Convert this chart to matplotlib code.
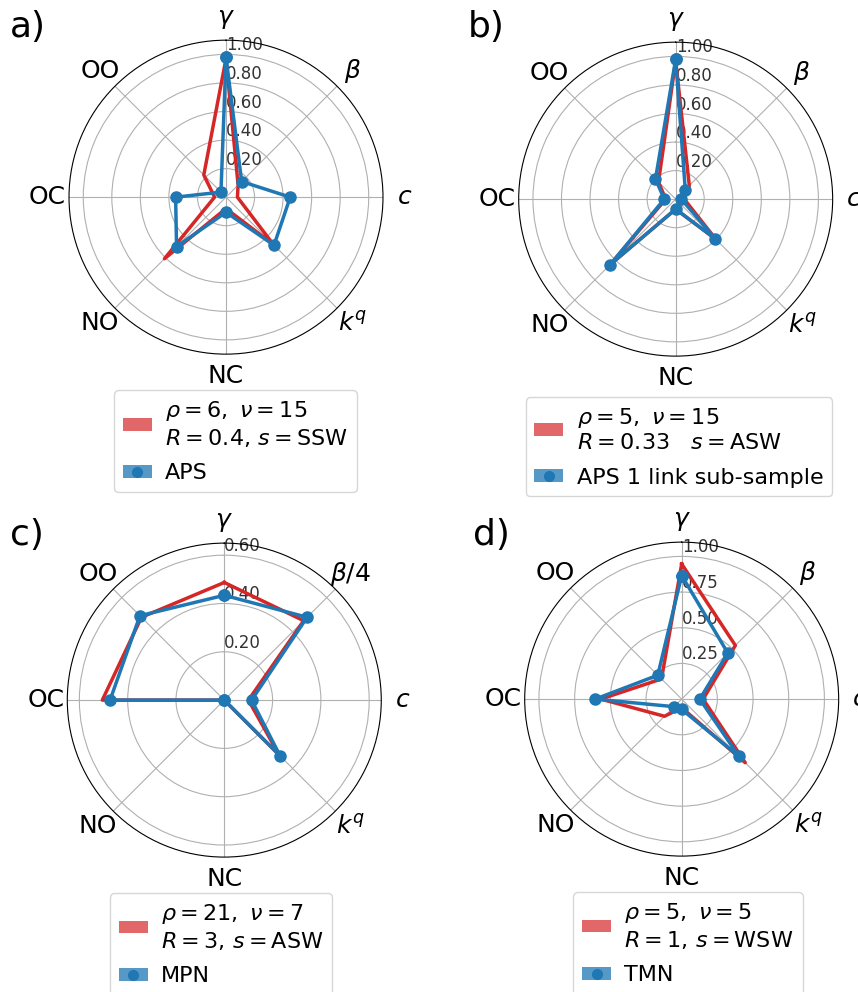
import numpy as np
import matplotlib
matplotlib.use("Agg")
import matplotlib.pyplot as plt
from matplotlib.patches import Patch
from matplotlib.lines import Line2D

# axis names, clockwise from the top
axis_names = [r"$\gamma$", r"$\beta$", r"$c$", r"$k^q$", "NC", "NO", "OC", "OO"]
axis_names_c = [r"$\gamma$", r"$\beta/4$", r"$c$", r"$k^q$", "NC", "NO", "OC", "OO"]

# panel a) model vs APS
model_a = [0.97, 0.12, 0.08, 0.47, 0.08, 0.61, 0.08, 0.22]
data_a = [0.98, 0.155, 0.45, 0.476, 0.106, 0.49, 0.353, 0.05]

# panel b) model vs APS 1 link sub-sample
model_b = [0.97, 0.135, 0.06, 0.40, 0.07, 0.65, 0.07, 0.17]
data_b = [0.98, 0.095, 0.04, 0.39, 0.07, 0.65, 0.08, 0.20]

# panel c) model vs MPN
model_c = [0.487, 0.465, 0.10, 0.32, 0.0, 0.0, 0.505, 0.485]
data_c = [0.434, 0.485, 0.113, 0.327, 0.0, 0.0, 0.473, 0.494]

# panel d) model vs TMN
model_d = [0.947, 0.532, 0.15, 0.63, 0.06, 0.17, 0.567, 0.20]
data_d = [0.866, 0.457, 0.127, 0.568, 0.072, 0.075, 0.606, 0.237]

labels_model = [
    r"$\rho = 6,\ \nu = 15$" + "\n" + r"$R = 0.4$, $s = $SSW",
    r"$\rho = 5,\ \nu = 15$" + "\n" + r"$R =$0.33   $s =$ASW",
    r"$\rho = 21,\ \nu = 7$" + "\n" + r"$R = 3$, $s = $ASW",
    r"$\rho = 5,\ \nu = 5$" + "\n" + r"$R = 1$, $s = $WSW",
]
labels_data = ["APS", "APS 1 link sub-sample", "MPN", "TMN"]

RED = "#d62728"
BLUE = "#1f77b4"

fig = plt.figure(figsize=(8.58, 9.92), dpi=100)

# axes rectangles in figure fraction
rects = [
    [0.0804, 0.643, 0.366, 0.3165],
    [0.6045, 0.641, 0.366, 0.3165],
    [0.0784, 0.136, 0.366, 0.3165],
    [0.6115, 0.137, 0.366, 0.3165],
]
panels = [
    (model_a, data_a, axis_names, 1.1, [0.2, 0.4, 0.6, 0.8, 1.0]),
    (model_b, data_b, axis_names, 1.1, [0.2, 0.4, 0.6, 0.8, 1.0]),
    (model_c, data_c, axis_names_c, 0.65, [0.2, 0.4, 0.6]),
    (model_d, data_d, axis_names, 1.1, [0.25, 0.5, 0.75, 1.0]),
]
letters = ["a)", "b)", "c)", "d)"]
letter_pos = [(0.012, 0.99), (0.545, 0.99), (0.012, 0.478), (0.551, 0.478)]
legend_anchor = [(0.53, -0.08), (0.51, -0.095), (0.49, -0.08), (0.52, -0.08)]

n = len(axis_names)
angles = np.linspace(0, 2 * np.pi, n, endpoint=False)
angles_closed = np.append(angles, angles[0])

for i, (model, data, names, rmax, rticks) in enumerate(panels):
    ax = fig.add_axes(rects[i], projection="polar")
    ax.set_theta_zero_location("N")
    ax.set_theta_direction(-1)

    ax.plot(angles_closed, model + model[:1], color=RED, lw=2.5)
    ax.plot(angles_closed, data + data[:1], color=BLUE, lw=2.5,
            marker="o", markersize=8)

    ax.set_xticks(angles)
    ax.set_xticklabels(names, fontsize=18)
    ax.tick_params(axis="x", pad=5)

    ax.set_ylim(0, rmax)
    ax.set_yticks(rticks)
    ax.set_yticklabels(["%.2f" % t for t in rticks], fontsize=12, color="#333333")
    ax.set_rlabel_position(0)

    # legend: coloured boxes, the data entry carries a dot
    handles = [
        Patch(facecolor=RED, alpha=0.7),
        (Patch(facecolor=BLUE, alpha=0.75),
         Line2D([], [], marker="o", color=BLUE, ls="", markersize=7)),
    ]
    ax.legend(handles, [labels_model[i], labels_data[i]],
              loc="upper center", bbox_to_anchor=legend_anchor[i],
              fontsize=16, handlelength=1.3, handleheight=0.5,
              handletextpad=0.6, labelspacing=0.65)

    fig.text(letter_pos[i][0], letter_pos[i][1], letters[i],
             fontsize=26, va="top", ha="left")

plt.savefig("out.png", dpi=100)
